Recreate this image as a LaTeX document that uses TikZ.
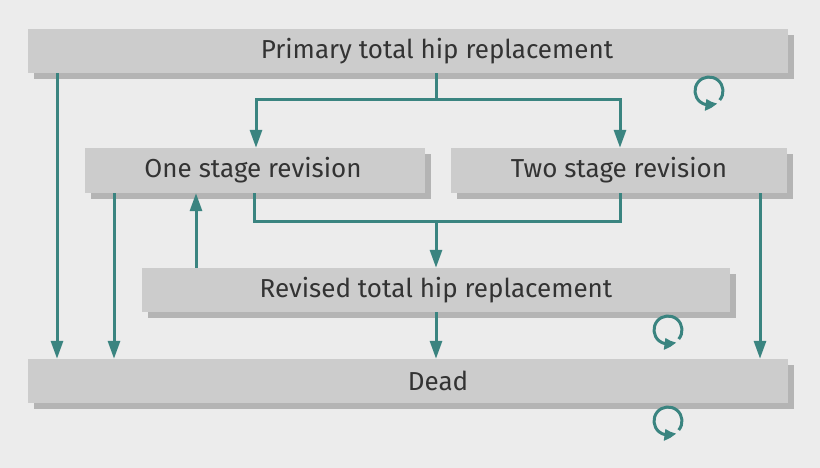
\documentclass[tikz,border=0pt]{standalone}
\usepackage{fontspec}
\setmainfont{Fira Sans}
\usetikzlibrary{arrows.meta,shadows,bending}
\definecolor{bgc}{HTML}{ECECEC}
\definecolor{boxc}{HTML}{CCCCCC}
\definecolor{shadc}{HTML}{B4B4B4}
\definecolor{tealc}{HTML}{3A8480}
\definecolor{txtc}{HTML}{333333}
\tikzset{
  statebox/.style={rectangle, fill=boxc, draw=none, inner sep=0pt,
    general shadow={fill=shadc, shadow xshift=6pt, shadow yshift=-6pt}},
  lbl/.style={inner sep=0pt, text=txtc, font=\fontsize{26}{30}\selectfont},
  arr/.style={draw=tealc, line width=3pt, -{Triangle[length=18pt,width=12pt]}},
  conn/.style={draw=tealc, line width=3pt, line join=miter},
  looparr/.style={draw=tealc, line width=3pt, -{Triangle[length=12pt,width=11pt,bend]}}
}
\begin{document}
\begin{tikzpicture}[x=1pt,y=-1pt]
\useasboundingbox (0,0) rectangle (820,468);
\fill[bgc] (0,0) rectangle (820,468);
% boxes
\node[statebox, minimum width=760pt, minimum height=44pt] (prim) at (408,51) {};
\node[statebox, minimum width=340pt, minimum height=45pt] (one) at (255,170.5) {};
\node[statebox, minimum width=336pt, minimum height=45pt] (two) at (619,170.5) {};
\node[statebox, minimum width=588pt, minimum height=44pt] (rev) at (436,290) {};
\node[statebox, minimum width=760pt, minimum height=44pt] (dead) at (408,381) {};
% labels
\node[lbl] (primT) at (437,51) {Primary total hip replacement};
\node[lbl] (oneT) at (253,170) {One stage revision};
\node[lbl] (twoT) at (619,170) {Two stage revision};
\node[lbl] (revT) at (436,290) {Revised total hip replacement};
\node[lbl] (deadT) at (438,381) {Dead};
% connectors
\coordinate (split) at (436,100);
\draw[arr] (436,0 |- prim.south) -- (split) -| (256,0 |- one.north);
\draw[arr] (436,0 |- prim.south) -- (split) -| (620,0 |- two.north);
\coordinate (mleft) at (254,222);
\coordinate (mright) at (620,222);
\coordinate (merge) at (436,222);
\draw[conn] (254,0 |- one.south) -- (mleft) -- (mright) -- (620,0 |- two.south);
\draw[arr] (merge) -- (436,0 |- rev.north);
\draw[arr] (57,0 |- prim.south) -- (57,0 |- dead.north);
\draw[arr] (114,0 |- one.south) -- (114,0 |- dead.north);
\draw[arr] (196,0 |- rev.north) -- (196,0 |- one.south);
\draw[arr] (436,0 |- rev.south) -- (436,0 |- dead.north);
\draw[arr] (760,0 |- two.south) -- (760,0 |- dead.north);
% self loops
\coordinate (l1) at (709,91);
\coordinate (l2) at (668,330);
\coordinate (l3) at (668,421);
\draw[looparr] (l1) ++(-40:14pt) arc[start angle=-40, end angle=305, radius=14pt];
\draw[looparr] (l2) ++(-40:14pt) arc[start angle=-40, end angle=305, radius=14pt];
\draw[looparr] (l3) ++(-40:14pt) arc[start angle=-40, end angle=305, radius=14pt];
\end{tikzpicture}
\end{document}
